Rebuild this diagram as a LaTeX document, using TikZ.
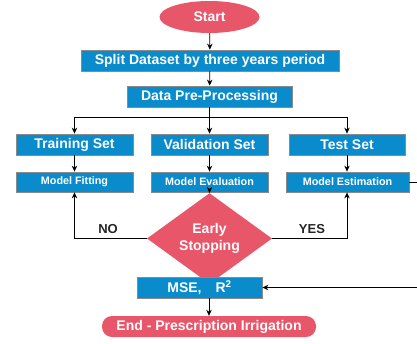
\documentclass[tikz,border=0pt]{standalone}
\usepackage{fontspec}
\setmainfont{Liberation Sans}
\usetikzlibrary{shapes.geometric,arrows.meta}
\definecolor{boxblue}{HTML}{0A8BCB}
\definecolor{termred}{HTML}{E8566A}
\definecolor{edgegray}{HTML}{8A8A8A}
\begin{document}
\begin{tikzpicture}[x=1pt,y=-1pt,
  bluebox/.style={rectangle,fill=boxblue,draw=edgegray,line width=0.8pt,text=white,font=\bfseries\fontsize{14}{16}\selectfont,inner sep=0pt,minimum height=21pt},
  smallbox/.style={bluebox,font=\bfseries\fontsize{10.8}{12}\selectfont,minimum height=20pt},
  term/.style={fill=termred,draw=none,text=white,font=\bfseries\fontsize{14}{16}\selectfont,inner sep=0pt},
  conn/.style={line width=0.8pt,draw=black},
  arr/.style={conn,-{Stealth[length=6pt,width=5.5pt]}},
  lbl/.style={font=\bfseries\fontsize{13}{15}\selectfont,text=black!85}
]
\useasboundingbox (0,0) rectangle (417,343);
\node[term,ellipse,minimum width=100pt,minimum height=32pt] (start) at (209.5,17) {Start};
\node[bluebox,minimum width=258pt] (split) at (210,60.5) {Split Dataset by three years period};
\node[bluebox,minimum width=165pt] (pre) at (209.5,96.5) {Data Pre-Processing};
\node[bluebox,minimum width=117pt] (train) at (74.5,144.5) {Training Set};
\node[bluebox,minimum width=117pt] (val) at (209.5,144.5) {Validation Set};
\node[bluebox,minimum width=116pt] (test) at (347,144.5) {Test Set};
\node[smallbox,minimum width=117pt] (fit) at (74.5,182) {Model Fitting};
\node[smallbox,minimum width=117pt] (eval) at (209.5,182) {Model Evaluation};
\node[smallbox,minimum width=123pt] (est) at (347.5,182) {Model Estimation};
\node[term,diamond,minimum width=125pt,minimum height=63pt,align=center,font=\bfseries\fontsize{14}{17}\selectfont] (stop) at (209.5,238.5) {Early\\Stopping};
\node[bluebox,minimum width=125pt] (mse) at (199.5,287.5) {MSE,\quad R\textsuperscript{2}};
\node[term,rectangle,rounded corners=10pt,minimum width=214pt,minimum height=21pt] (endn) at (209,326.5) {End - Prescription Irrigation};
\node[lbl] (no) at (108,229) {NO};
\node[lbl] (yes) at (312,229) {YES};
\coordinate (j) at (209.5,117);
\coordinate (r1) at (430,182);
\coordinate (r2) at (430,287.5);
\draw[arr] (start) -- (split);
\draw[arr] (split) -- (pre);
\draw[conn] (pre.south) -- (j);
\draw[conn] (train.north |- j) -- (test.north |- j);
\draw[arr] (train.north |- j) -- (train.north);
\draw[arr] (j) -- (val.north);
\draw[arr] (test.north |- j) -- (test.north);
\draw[arr] (train) -- (fit);
\draw[arr] (val) -- (eval);
\draw[arr] (test.south) -- (test.south |- est.north);
\draw[arr] (eval) -- (stop);
\draw[arr] (stop.west) -- (fit.south |- stop.west) -- (fit.south);
\draw[arr] (stop.east) -- (test.south |- stop.east) -- (test.south |- est.south);
\draw[arr] (est.east) -- (r1) -- (r2) -- (mse.east);
\draw[arr] (mse.south -| endn.north) -- (endn.north);
\end{tikzpicture}
\end{document}
